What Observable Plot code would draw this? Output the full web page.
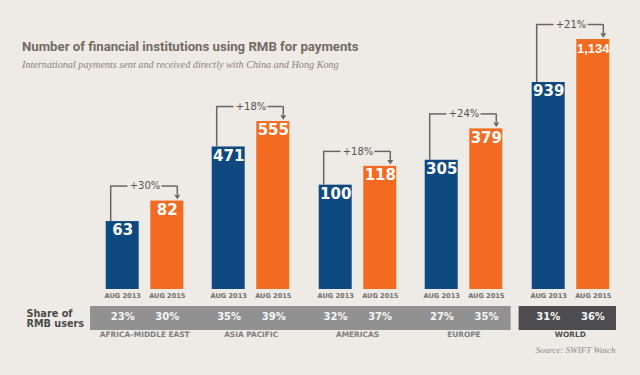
<!DOCTYPE html>
<html><head><meta charset="utf-8">
<script src="https://cdn.jsdelivr.net/npm/d3@7"></script>
<script src="https://cdn.jsdelivr.net/npm/@observablehq/plot@0.6"></script>
<style>
html,body{margin:0;padding:0;background:#eeeae6;}
#chart{position:relative;width:640px;height:375px;overflow:hidden;background:#eeeae6;}
#title{position:absolute;left:22px;top:39px;margin:0;font:bold 13.2px Roboto,"Liberation Sans",Arial,sans-serif;color:#736b64;white-space:nowrap;}
#subtitle{position:absolute;left:22px;top:59px;margin:0;font:italic 10.2px "Liberation Serif",serif;color:#8a837c;white-space:nowrap;}
</style></head><body>
<div id="chart">
<div id="title">Number of financial institutions using RMB for payments</div>
<div id="subtitle">International payments sent and received directly with China and Hong Kong</div>
</div>
<script>
// ---- data ----
const regions = ["AFRICA–MIDDLE EAST", "ASIA PACIFIC", "AMERICAS", "EUROPE", "WORLD"];
const years = [2013, 2015];
const users2013 = [63, 471, 100, 305, 939];
const users2015 = [82, 555, 118, 379, 1134];
const share2013 = [0.23, 0.35, 0.32, 0.27, 0.31];
const share2015 = [0.30, 0.39, 0.37, 0.35, 0.36];
const source = "Source: SWIFT Watch";
const shareLabel = "Share of\nRMB users";

// ---- styling / layout ----
const blue = "#0e4a80", orange = "#f26b21", ink = "#676767";
const fmt = d3.format(",");
const pct = d3.format("+.0%");
const sharePct = d3.format(".0%");
// each region in the original is drawn on its own vertical scale
const panelMax = [268, 955, 277, 682, 1311];
const groupLeft = 91, groupStep = 106.4;
const chart = document.getElementById("chart");

const downTriangle = {
  draw(ctx, size) {
    const r = Math.sqrt(size / Math.PI);
    ctx.moveTo(-r, -r * 0.6);
    ctx.lineTo(r, -r * 0.6);
    ctx.lineTo(0, r * 0.9);
    ctx.closePath();
  }
};

regions.forEach((region, i) => {
  const rows = years.map((year, j) => ({year, value: j ? users2015[i] : users2013[i]}));
  const [a, b] = rows;
  const change = [{x: 2014, y: b.value, text: pct(b.value / a.value - 1)}];
  const plot = Plot.plot({
    width: 107, height: 303,
    marginTop: 0, marginBottom: 14, marginLeft: 0, marginRight: 0,
    style: {background: "transparent", overflow: "visible", color: "#6e6e6e", fontFamily: "DejaVu Sans, sans-serif"},
    x: {type: "linear", domain: [2011.6, 2016.4]},
    y: {domain: [0, panelMax[i]], axis: null},
    marks: [
      Plot.rect(rows, {x1: d => d.year - 0.74, x2: d => d.year + 0.74, y1: () => 0, y2: "value",
        fill: d => d.year === 2013 ? blue : orange}),
      Plot.text(rows.filter(d => d.value < 1000), {x: "year", y: "value", text: d => fmt(d.value),
        dy: 9, fill: "white", fontWeight: "bold", fontSize: 15, fontFamily: "DejaVu Sans"}),
      Plot.text(rows.filter(d => d.value >= 1000), {x: "year", y: "value", text: d => fmt(d.value),
        dy: 9, fill: "white", fontWeight: "bold", fontSize: 13, fontFamily: "Liberation Sans"}),
      // bracket
      Plot.ruleX([a], {x: "year", y1: () => b.value, y2: "value", dx: -12, insetTop: -15,
        stroke: ink, strokeWidth: 1.5}),
      Plot.ruleY([b], {y: "value", x1: () => 2013, x2: () => 2014, insetLeft: -12, insetRight: 17,
        dy: -15, stroke: ink, strokeWidth: 1.5}),
      Plot.ruleY([b], {y: "value", x1: () => 2014, x2: () => 2015, insetLeft: 17, insetRight: -10,
        dy: -15, stroke: ink, strokeWidth: 1.5}),
      Plot.ruleX([b], {x: "year", y1: "value", y2: "value", dx: 10, insetTop: -15, insetBottom: 6,
        stroke: ink, strokeWidth: 1.5}),
      Plot.dot([b], {x: "year", y: "value", dx: 10, dy: -4.5, r: 3, symbol: downTriangle, fill: ink, stroke: "none"}),
      Plot.text(change, {x: "x", y: "y", text: "text", dy: -15, fontSize: 10, fill: "#555", fontFamily: "DejaVu Sans"}),
      Plot.axisX({ticks: years, tickFormat: d => `AUG ${d}`, tickSize: 0, tickPadding: 4, label: null,
        fontSize: 6.6, fontWeight: "bold", fontFamily: "DejaVu Sans"})
    ]
  });
  plot.style.position = "absolute";
  plot.style.left = (groupLeft + i * groupStep) + "px";
  plot.style.top = "0px";
  chart.appendChild(plot);
});

// ---- share strip, region names, source ----
const idx = regions.map((r, i) => i);
const strip = Plot.plot({
  width: 640, height: 60,
  marginTop: 6, marginBottom: 30, marginLeft: groupLeft, marginRight: 640 - groupLeft - 5 * groupStep,
  style: {background: "transparent", overflow: "visible", fontFamily: "DejaVu Sans, sans-serif"},
  x: {domain: [-0.5, 4.5], axis: null},
  marks: [
    Plot.rect([{x1: -0.5, x2: 3.5}], {x1: "x1", x2: "x2", insetLeft: -1, insetRight: 6, fill: "#919191"}),
    Plot.rect([{x1: 3.5, x2: 4.5}], {x1: "x1", x2: "x2", insetLeft: 2, insetRight: 7, fill: "#4d4d4f"}),
    Plot.text(idx, {x: d => d, text: d => sharePct(share2013[d]), dx: -22, dy: -2,
      fill: "#f6f6f6", fontWeight: "bold", fontSize: 10}),
    Plot.text(idx, {x: d => d, text: d => sharePct(share2015[d]), dx: 22.6, dy: -2,
      fill: "#f6f6f6", fontWeight: "bold", fontSize: 10}),
    Plot.text(idx, {x: d => d, text: d => regions[d], frameAnchor: "bottom", dy: 6,
      fill: d => regions[d] === "WORLD" ? "#505050" : "#808080", fontWeight: "bold", fontSize: 7.4}),
    Plot.text([shareLabel], {text: d => d, frameAnchor: "left", dx: -65, textAnchor: "start",
      fontSize: 9.7, fontWeight: "bold", fill: "#4b4b4b", lineHeight: 1.02}),
    Plot.text([source], {text: d => d, frameAnchor: "bottom-right", textAnchor: "end", dx: -8, dy: 22,
      fontFamily: "Liberation Serif", fontStyle: "italic", fontSize: 9, fill: "#8a8a8a"})
  ]
});
strip.style.position = "absolute";
strip.style.left = "0px";
strip.style.top = "300px";
chart.appendChild(strip);
</script>
</body></html>
